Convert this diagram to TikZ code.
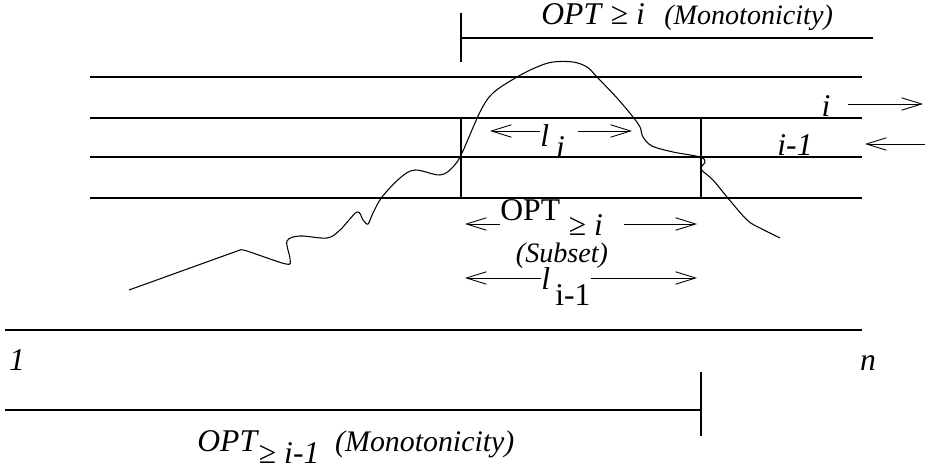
\documentclass[tikz,border=0pt]{standalone}
\usepackage{fontspec}
\setmainfont{Liberation Serif}
\usetikzlibrary{arrows.meta, positioning, calc}

\begin{document}
\begin{tikzpicture}[
  x=0.02cm, y=-0.02cm,
  >={Straight Barb[length=4mm, width=2.5mm]},
  rule/.style={line width=0.8pt},
  span/.style={->, line width=0.5pt},
  lbl/.style={font=\fontsize{18}{21}\selectfont, inner sep=0pt},
  ilbl/.style={font=\fontsize{18}{21}\selectfont\itshape, inner sep=0pt}
]
\useasboundingbox (0,0) rectangle (935,472);

% rows
\foreach \yy in {77,118,157,198}
  \draw[rule] (90,\yy) -- (862,\yy);
\draw[rule] (461,118) -- (461,198);
\draw[rule] (701,118) -- (701,198);

% top range
\draw[rule] (461,13) -- (461,62);
\draw[rule] (461,38) -- (873,38);
\node[lbl, anchor=base west] (topLbl) at (541,25)
  {\textit{OPT} ≥ \textit{i}\hspace{11pt}{\fontsize{16}{19}\selectfont\textit{(Monotonicity)}}};

% bottom ranges
\draw[rule] (5,330) -- (862,330);
\draw[rule] (5,410) -- (701,410);
\draw[rule] (701,372) -- (701,436);
\node[ilbl, anchor=base] (oneLbl) at (17,370) {1};
\node[ilbl, anchor=base] (nLbl) at (868,370) {n};
\node[lbl, anchor=base west] (botLbl) at (197,451)
  {\textit{OPT}\raisebox{-7pt}{≥ \textit{i-1}}\hspace{9pt}{\fontsize{17}{20}\selectfont\textit{(Monotonicity)}}};

% the curve
\draw[line width=0.6pt] (129,290) -- (240,250)
  plot[smooth, tension=0.55] coordinates {(240,250) (247,251) (286,264) (290,259)
    (287,241) (300,236) (327,238) (340,230) (357,212) (363,220) (368,224)
    (373,213) (382,197) (400,178) (415,170) (440,175) (453,167) (462,153)
    (480,112) (493,93) (517,77) (537,67) (553,62) (573,62) (587,67) (597,77)
    (617,98) (633,117) (640,127) (643,137) (652,146) (673,152) (700,157)
    (705,162) (701,169) (713,180) (727,197) (747,220) (760,228) (780,238)};

% l_i
\node[lbl, anchor=base west] (liLbl) at (540,147)
  {\textit{l}\hspace{4pt}\raisebox{-6pt}{\textit{i}}};
\coordinate (liL) at (490,131);
\coordinate (liR) at (632,131);
\draw[span] (liLbl.west |- liL) -- (liL);
\draw[span, shorten <=7pt] (liLbl.east |- liR) -- (liR);

% right side rows
\node[ilbl, anchor=base] (iLbl) at (826,117) {i};
\node[ilbl, anchor=base] (imLbl) at (795,156) {i-1};
\coordinate (iArrL) at (848,104);
\coordinate (iArrR) at (923,104);
\coordinate (imArrL) at (865,144);
\coordinate (imArrR) at (925,144);
\draw[span] (iArrL) -- (iArrR);
\draw[span] (imArrR) -- (imArrL);

% OPT >= i
\node[lbl, anchor=base west] (optLbl) at (500,221)
  {OPT\hspace{5pt}\raisebox{-8pt}{≥ \textit{i}}};
\coordinate (optL) at (465,224);
\coordinate (optR) at (697,224);
\draw[span] (optLbl.west |- optL) -- (optL);
\draw[span, shorten <=12pt] (optLbl.east |- optR) -- (optR);

\node[ilbl, font=\fontsize{16}{19}\selectfont\itshape] (subLbl) at (562,256) {(Subset)};

% l_{i-1}
\node[lbl, anchor=base west] (liiLbl) at (541,290)
  {\textit{l}\hspace{3pt}\raisebox{-9pt}{i-1}};
\coordinate (liiL) at (465,278);
\coordinate (liiR) at (697,278);
\draw[span] (liiLbl.west |- liiL) -- (liiL);
\draw[span] (liiLbl.east |- liiR) -- (liiR);
\end{tikzpicture}
\end{document}
